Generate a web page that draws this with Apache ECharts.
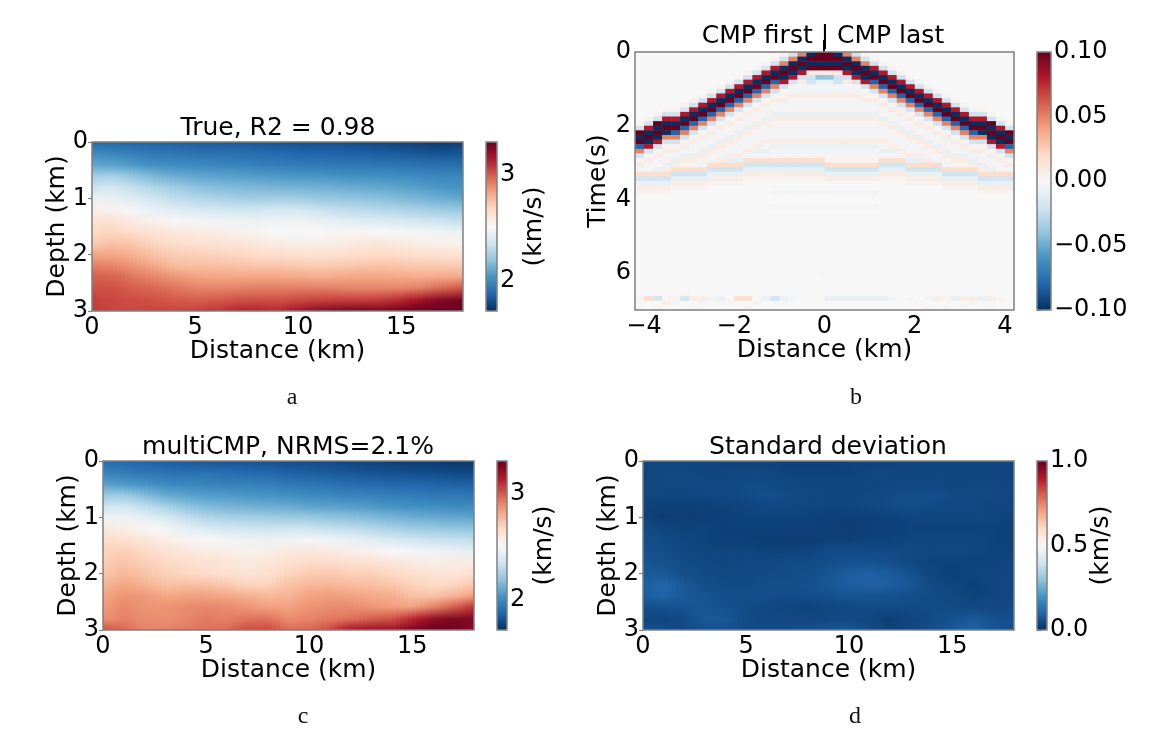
<!DOCTYPE html>
<html>
<head>
<meta charset="utf-8">
<title>CMP velocity inversion</title>
<script src="https://cdn.jsdelivr.net/npm/echarts@6/dist/echarts.min.js"></script>
<style>
html, body { margin: 0; padding: 0; background: #fff; }
#main { width: 1173px; height: 734px; }
</style>
</head>
<body>
<div id="main"></div>
<script type="text/javascript">
// grid nodes
var distanceKm = [0,1,2,3,4,5,6,7,8,9,10,11,12,13,14,15,16,17,18];
var depthKm = [0,0.2,0.4,0.6,0.8,1.0,1.2,1.4,1.6,1.8,2.0,2.2,2.4,2.6,2.8,3.0];

// panel a, km/s
var velocityTrue = [
  [1.92,1.92,1.90,1.90,1.89,1.88,1.88,1.87,1.86,1.85,1.84,1.84,1.83,1.82,1.81,1.80,1.79,1.78,1.79],
  [2.03,2.01,1.99,1.97,1.96,1.95,1.94,1.94,1.93,1.92,1.91,1.90,1.90,1.89,1.88,1.87,1.86,1.85,1.86],
  [2.12,2.11,2.08,2.05,2.04,2.03,2.02,2.01,2.00,1.99,1.98,1.98,1.97,1.97,1.96,1.96,1.95,1.94,1.94],
  [2.26,2.27,2.22,2.17,2.14,2.12,2.11,2.10,2.09,2.08,2.07,2.07,2.06,2.05,2.05,2.04,2.03,2.02,2.02],
  [2.36,2.38,2.34,2.29,2.25,2.21,2.19,2.18,2.17,2.16,2.16,2.15,2.14,2.13,2.12,2.11,2.09,2.07,2.06],
  [2.48,2.46,2.42,2.37,2.33,2.30,2.28,2.26,2.25,2.26,2.25,2.23,2.22,2.21,2.20,2.18,2.16,2.14,2.12],
  [2.58,2.56,2.51,2.47,2.43,2.41,2.39,2.38,2.38,2.40,2.39,2.36,2.34,2.32,2.31,2.29,2.27,2.25,2.23],
  [2.66,2.64,2.60,2.56,2.53,2.51,2.50,2.49,2.48,2.49,2.49,2.47,2.45,2.43,2.42,2.40,2.38,2.36,2.34],
  [2.69,2.70,2.67,2.64,2.62,2.60,2.59,2.57,2.55,2.53,2.52,2.53,2.54,2.54,2.53,2.52,2.51,2.49,2.48],
  [2.73,2.76,2.74,2.70,2.67,2.65,2.64,2.63,2.61,2.59,2.58,2.58,2.59,2.61,2.62,2.60,2.58,2.57,2.56],
  [2.84,2.84,2.81,2.76,2.73,2.72,2.71,2.70,2.68,2.67,2.66,2.65,2.66,2.68,2.69,2.68,2.66,2.65,2.65],
  [2.93,2.92,2.88,2.84,2.78,2.77,2.77,2.76,2.75,2.75,2.74,2.73,2.74,2.75,2.76,2.75,2.74,2.74,2.73],
  [3.00,2.99,2.95,2.91,2.88,2.85,2.84,2.84,2.84,2.84,2.83,2.82,2.83,2.84,2.84,2.83,2.82,2.83,2.84],
  [3.03,3.03,3.00,2.98,2.95,2.92,2.92,2.92,2.93,2.93,2.93,2.93,2.92,2.91,2.91,2.91,2.93,2.98,3.02],
  [3.07,3.05,3.04,3.03,3.01,3.00,3.01,3.03,3.03,3.03,3.05,3.06,3.07,3.07,3.08,3.12,3.19,3.25,3.27],
  [3.08,3.06,3.05,3.06,3.06,3.07,3.09,3.13,3.14,3.12,3.18,3.24,3.27,3.29,3.27,3.30,3.31,3.31,3.31]
];

// panel c, km/s
var velocityMulti = [
  [1.93,1.91,1.90,1.88,1.87,1.86,1.85,1.85,1.84,1.83,1.83,1.82,1.81,1.80,1.79,1.78,1.78,1.77,1.77],
  [2.00,1.98,1.96,1.95,1.94,1.94,1.93,1.92,1.91,1.89,1.88,1.87,1.86,1.85,1.84,1.83,1.83,1.82,1.82],
  [2.10,2.08,2.06,2.03,2.02,2.01,2.00,2.00,1.99,1.97,1.96,1.95,1.93,1.92,1.91,1.91,1.90,1.89,1.89],
  [2.24,2.24,2.19,2.13,2.11,2.09,2.08,2.07,2.06,2.05,2.03,2.02,2.01,2.00,1.99,1.98,1.97,1.97,1.96],
  [2.36,2.38,2.33,2.27,2.21,2.18,2.16,2.15,2.14,2.13,2.11,2.10,2.09,2.08,2.06,2.05,2.04,2.03,2.03],
  [2.49,2.49,2.45,2.40,2.34,2.29,2.27,2.26,2.25,2.24,2.23,2.21,2.20,2.18,2.16,2.14,2.13,2.12,2.11],
  [2.61,2.59,2.55,2.51,2.46,2.42,2.39,2.38,2.37,2.38,2.37,2.35,2.34,2.31,2.28,2.26,2.24,2.23,2.22],
  [2.68,2.66,2.63,2.59,2.55,2.53,2.51,2.49,2.48,2.50,2.52,2.50,2.47,2.44,2.41,2.38,2.36,2.35,2.34],
  [2.71,2.72,2.69,2.65,2.62,2.60,2.58,2.56,2.58,2.61,2.62,2.60,2.58,2.56,2.53,2.51,2.49,2.47,2.46],
  [2.72,2.75,2.72,2.69,2.66,2.65,2.63,2.61,2.63,2.65,2.68,2.68,2.66,2.65,2.63,2.60,2.58,2.59,2.60],
  [2.75,2.79,2.76,2.72,2.70,2.68,2.66,2.64,2.66,2.71,2.73,2.74,2.72,2.72,2.69,2.67,2.64,2.63,2.66],
  [2.80,2.84,2.81,2.76,2.77,2.77,2.74,2.71,2.71,2.76,2.79,2.80,2.78,2.77,2.75,2.71,2.69,2.70,2.74],
  [2.84,2.88,2.87,2.84,2.85,2.85,2.84,2.81,2.79,2.80,2.85,2.86,2.85,2.83,2.82,2.76,2.76,2.80,2.86],
  [2.86,2.91,2.88,2.88,2.90,2.91,2.90,2.88,2.85,2.85,2.88,2.90,2.90,2.88,2.86,2.85,2.92,3.00,3.10],
  [2.89,2.92,2.90,2.89,2.91,2.94,2.93,2.95,2.96,2.90,2.92,2.94,2.96,3.00,3.03,3.12,3.22,3.26,3.26],
  [3.03,2.98,2.92,2.92,2.94,2.96,2.97,3.04,3.05,2.97,2.98,3.05,3.18,3.21,3.20,3.27,3.31,3.29,3.24]
];

// panel d, km/s
var stdDev = [
  [.04,.04,.04,.04,.035,.035,.035,.03,.03,.03,.035,.035,.035,.04,.04,.04,.04,.04,.04],
  [.04,.045,.045,.04,.04,.04,.04,.035,.035,.035,.035,.04,.04,.04,.04,.04,.04,.04,.035],
  [.04,.045,.045,.045,.045,.05,.05,.045,.04,.04,.04,.04,.045,.045,.045,.04,.04,.04,.04],
  [.045,.04,.04,.045,.045,.05,.055,.05,.045,.04,.04,.045,.05,.055,.055,.05,.045,.045,.04],
  [.035,.03,.03,.03,.035,.04,.045,.045,.04,.04,.04,.045,.05,.055,.05,.045,.045,.04,.04],
  [.035,.025,.025,.03,.03,.035,.035,.035,.035,.03,.03,.03,.035,.04,.04,.04,.04,.04,.035],
  [.05,.04,.035,.035,.03,.03,.03,.03,.03,.03,.025,.03,.03,.035,.035,.035,.035,.035,.03],
  [.055,.05,.04,.035,.03,.03,.025,.025,.025,.03,.03,.035,.035,.04,.04,.04,.04,.035,.03],
  [.06,.055,.045,.04,.04,.04,.035,.035,.04,.05,.05,.05,.05,.045,.04,.045,.04,.035,.035],
  [.07,.06,.05,.045,.04,.045,.045,.05,.05,.055,.06,.06,.055,.045,.035,.035,.035,.035,.04],
  [.075,.075,.055,.05,.045,.045,.05,.05,.055,.065,.085,.09,.08,.06,.04,.03,.035,.04,.04],
  [.085,.10,.075,.055,.05,.05,.055,.055,.06,.07,.085,.09,.085,.07,.05,.04,.03,.04,.045],
  [.08,.095,.075,.065,.055,.055,.055,.05,.055,.06,.065,.065,.06,.055,.05,.045,.035,.04,.045],
  [.055,.06,.065,.07,.06,.05,.045,.04,.035,.04,.045,.05,.05,.05,.05,.05,.045,.045,.05],
  [.04,.04,.05,.075,.07,.05,.045,.045,.045,.045,.05,.04,.03,.04,.05,.06,.075,.06,.055],
  [.06,.05,.045,.06,.06,.05,.05,.05,.055,.065,.07,.05,.03,.04,.055,.075,.10,.07,.06]
];

// panel b: one string per trace, one letter per time sample (0.125 s), read top to bottom
var offsetKm = [-4.1,-3.9,-3.7,-3.5,-3.3,-3.1,-2.9,-2.7,-2.5,-2.3,-2.1,-1.9,-1.7,-1.5,-1.3,-1.1,-0.9,-0.7,-0.5,-0.3,-0.1,
                0.1,0.3,0.5,0.7,0.9,1.1,1.3,1.5,1.7,1.9,2.1,2.3,2.5,2.7,2.9,3.1,3.3,3.5,3.7,3.9,4.1];
var sampleStep = 0.125;
var ampLevels = { '.':0, a:0.003, b:0.008, c:0.018, d:0.05, e:0.08, f:0.10, A:-0.003, B:-0.008, C:-0.02, D:-0.04, E:-0.08, F:-0.10 };
var shotTraces = [
  "........ .......a CfFfEdCa bAcCBba. ........ ........ .....A.a",
  "........ ......aC eFfFeCab AacCBba. ........ ........ .....c..",
  "........ .....aCf FfFeCabA aBcCBba. ........ ........ .....C.a",
  "........ ....aCeF fFdCabAa BbcCBba. ........ ........ .....ab.",
  "........ ....aCeF fEdCabAB bcCBba.. ........ ........ .....aA.",
  "........ ...aCeFf EdCabABb acCBba.. ........ ........ ....aC..",
  "........ ..aCeFfE dCabAaBb acCBba.. ........ ........ .....b.a",
  "........ .aCeFfEd CabAaBba AcCBba.. ........ ........ .....bA.",
  "........ aCeFfEdC abAaBbaA cCBba... ........ ........ .....A..",
  ".......a CeFfEdCa bAaBbaAb cCBba... ........ ........ .....Ba.",
  "......aC eFfEdCab AaBbaAbB cCBba... ........ ........ ......a.",
  ".....aCe FfEdCabA aBbaAabB cCBba... ........ ........ .....c..",
  "....aCeF fEdCabAa BbaAabAc CBba.... ........ ........ .....c.a",
  "...aCeFf EdCabAaB baAabBAc CBba.... ........ ........ ......A.",
  "..aCeFfE dCabAaBb AAabABAc CBba.... ........ ........ .....B..",
  ".aCeFfEd CabAaBba AAabBAac CBba..A. .a...... ........ .....C..",
  "aCdFfFeC aabAaBba AAabBAac CBba..A. .a...... ........ .....Ba.",
  "CdFfFeCa AbaAaBba AAabBAac CBba..A. .a...... ........ .....A..",
  "dFfFeCbA AbaAaBba AAabBAac CBba..A. .a...... ........ ........",
  "FfFfbCCA AbaAaBba AAabBAac CBba..A. .a...... ........ ........",
  "ffFfbDBA AbaAaBba AAabBAac CBba..A. .a...... ........ ........",
  "ffFfbDBA AbaAaBba AAabBAaa cCBb..A. .a...... ........ .....B..",
  "FfFfbCCA AbaAaBba AAabBAaa cCBb..A. .a...... ........ .....B..",
  "dFfFeCbA AbaAaBba AAabBAaa cCBb..A. .a...... ........ .....B..",
  "CdFfFeCa AbaAaBba AAabBAaa cCBb..A. .a...... ........ .....B..",
  "aCdFfFeC aabAaBba AAabBAaa cCBb..A. .a...... ........ .....B..",
  ".aCeFfEd CabAaBba AAabBAaa cCBb..A. .a...... ........ .....B..",
  "..aCeFfE dCabAaBb AAabABAc CBba.... ........ ........ .....B..",
  "...aCeFf EdCabAaB baAabBAc CBba.... ........ ........ .....A..",
  "....aCeF fEdCabAa BbaAabAc CBba.... ........ ........ ........",
  ".....aCe FfEdCabA aBbaAabB cCBba... ........ ........ .....a..",
  "......aC eFfEdCab AaBbaAbB cCBba... ........ ........ ......a.",
  ".......a CeFfEdCa bAaBbaAb cCBba... ........ ........ .....A.a",
  "........ aCeFfEdC abAaBbaA cCBba... ........ ........ .....b..",
  "........ .aCeFfEd CabAaBba AcCBba.. ........ ........ .....a.A",
  "........ ..aCeFfE dCabAaBb acCBba.. ........ ........ .....B..",
  "........ ...aCeFf EdCabABb acCBba.. ........ ........ .....b.a",
  "........ ....aCeF fEdCabAB bcCBba.. ........ ........ .....bA.",
  "........ ....aCeF fFdCabAa BbcCBba. ........ ........ .....B..",
  "........ .....aCf FfFeCabA aBcCBba. ........ ........ .....b.a",
  "........ ......aC eFfFeCab AacCBba. ........ ........ .....a..",
  "........ .......a CfFfEdCa bAcCBba. ........ ........ ........"
];

// tick labels
var distanceTicks = [0, 5, 10, 15];
var depthTicks = [0, 1, 2, 3];
var offsetTicks = [-4, -2, 0, 2, 4];
var timeTicks = [0, 2, 4, 6];
var velocityBarTicks = [2, 3];
var ampBarTicks = [-0.1, -0.05, 0, 0.05, 0.1];
var stdBarTicks = [0, 0.5, 1];

var rdBu = ['#053061','#2166ac','#4393c3','#92c5de','#d1e5f0','#f7f7f7','#fddbc7','#f4a582','#d6604d','#b2182b','#67001f'];
var labelFont = 'DejaVu Sans';
var tickSize = 24;
var labelSize = 25;
var spineColor = '#808080';

function toCells(grid) {
  var out = [];
  for (var j = 0; j < depthKm.length; j++) {
    for (var i = 0; i < distanceKm.length; i++) {
      out.push([distanceKm[i], depthKm[j], grid[j][i]]);
    }
  }
  return out;
}

function traceCells() {
  var out = [];
  shotTraces.forEach(function (trace, i) {
    var samples = trace.replace(/ /g, '');
    for (var r = 0; r < samples.length; r++) {
      out.push([offsetKm[i], (r + 0.5) * sampleStep, ampLevels[samples.charAt(r)]]);
    }
  });
  return out;
}

// shades each grid square between its nodes, like imshow with interpolation
function shadedCell(grid, vmin, vmax) {
  var nx = distanceKm.length, subCols = 5;
  function shade(v) {
    var n = Math.min(1, Math.max(0, (v - vmin) / (vmax - vmin)));
    return echarts.color.lerp(n, rdBu);
  }
  return function (params, api) {
    var i = params.dataIndex % nx, j = Math.floor(params.dataIndex / nx);
    if (i === nx - 1 || j === depthKm.length - 1) return;
    var children = [];
    for (var s = 0; s < subCols; s++) {
      var t0 = s / subCols, t1 = (s + 1) / subCols, tm = (s + 0.5) / subCols;
      var dx = distanceKm[i + 1] - distanceKm[i];
      var p0 = api.coord([distanceKm[i] + t0 * dx, depthKm[j]]);
      var p1 = api.coord([distanceKm[i] + t1 * dx, depthKm[j + 1]]);
      var x0 = Math.round(p0[0]), x1 = Math.round(p1[0]), y0 = Math.round(p0[1]), y1 = Math.round(p1[1]);
      var top = grid[j][i] * (1 - tm) + grid[j][i + 1] * tm;
      var bottom = grid[j + 1][i] * (1 - tm) + grid[j + 1][i + 1] * tm;
      children.push({
        type: 'rect',
        shape: { x: x0, y: y0, width: x1 - x0, height: y1 - y0 },
        style: { fill: new echarts.graphic.LinearGradient(0, 0, 0, 1, [
          { offset: 0, color: shade(top) }, { offset: 1, color: shade(bottom) }
        ]) }
      });
    }
    return { type: 'group', children: children };
  };
}

function traceCell(params, api) {
  var x = api.value(0), t = api.value(1);
  var p0 = api.coord([x - 0.1, t - sampleStep / 2]);
  var p1 = api.coord([x + 0.1, t + sampleStep / 2]);
  return {
    type: 'rect',
    shape: { x: p0[0], y: p0[1], width: p1[0] - p0[0] + 0.5, height: p1[1] - p0[1] + 0.5 },
    style: { fill: api.visual('color') }
  };
}

function plotGrid(left, top, width, height) {
  return { left: left, top: top, width: width, height: height, show: true, z: 5,
    backgroundColor: 'transparent', borderColor: spineColor, borderWidth: 1.5 };
}

function axisBase(ticks) {
  return {
    axisLine: { show: false },
    axisTick: { show: true, length: 4, customValues: ticks, lineStyle: { color: spineColor, width: 1.2 } },
    axisLabel: { customValues: ticks, color: '#000', fontFamily: labelFont, fontSize: tickSize, margin: 5 },
    splitLine: { show: false },
    nameMoveOverlap: false,
    nameTextStyle: { color: '#000', fontFamily: labelFont, fontSize: labelSize }
  };
}

function bottomAxis(gridIndex, min, max, ticks) {
  var a = axisBase(ticks);
  a.type = 'value'; a.gridIndex = gridIndex; a.min = min; a.max = max; a.position = 'bottom';
  a.name = 'Distance (km)'; a.nameLocation = 'middle'; a.nameGap = 28;
  a.axisLabel.margin = 5;
  a.axisLabel.formatter = function (v) { return String(v).replace('-', '\u2212'); };
  return a;
}

function leftAxis(gridIndex, min, max, ticks, name, gap) {
  var a = axisBase(ticks);
  a.type = 'value'; a.gridIndex = gridIndex; a.min = min; a.max = max; a.inverse = true; a.position = 'left';
  a.name = name; a.nameLocation = 'middle'; a.nameGap = gap;
  a.axisLabel.margin = 4;
  return a;
}

function barAxes(gridIndex, min, max, ticks, name, gap, formatter) {
  var y = axisBase(ticks);
  y.type = 'value'; y.gridIndex = gridIndex; y.min = min; y.max = max; y.position = 'right';
  y.axisLabel.formatter = formatter;
  y.axisLabel.margin = 3;
  if (name) { y.name = name; y.nameLocation = 'middle'; y.nameGap = gap; y.nameRotate = 90; }
  return { x: { type: 'value', gridIndex: gridIndex, min: 0, max: 1, show: false }, y: y };
}

function colorBar(left, top, width, height, min, max, seriesIndex) {
  return {
    type: 'continuous', min: min, max: max, seriesIndex: seriesIndex, dimension: 2,
    left: left, top: top, itemWidth: width, itemHeight: height, padding: 0, z: 1,
    calculable: false, hoverLink: false, text: null, showLabel: false,
    inRange: { color: rdBu }
  };
}

function titleText(text, x, y) {
  return { text: text, left: x, top: y, padding: 0, textAlign: 'center',
    textStyle: { color: '#000', fontFamily: labelFont, fontSize: labelSize, fontWeight: 'normal' } };
}

function panelLetter(text, x, y) {
  return { text: text, left: x, top: y, padding: 0, textAlign: 'center',
    textStyle: { color: '#111', fontFamily: 'Liberation Serif', fontSize: 24, fontWeight: 'normal' } };
}

function fixed(digits) {
  return function (v) {
    if (Math.abs(v) < 1e-6) return (0).toFixed(digits);
    return v.toFixed(digits).replace('-', '\u2212');
  };
}

function plain(v) { return String(v); }

var bars = [
  barAxes(4, 1.72, 3.31, velocityBarTicks, '(km/s)', 25, plain),
  barAxes(5, -0.1, 0.1, ampBarTicks, null, 0, fixed(2)),
  barAxes(6, 1.72, 3.31, velocityBarTicks, '(km/s)', 25, plain),
  barAxes(7, 0, 1, stdBarTicks, '(km/s)', 42, fixed(1))
];

var option = {
  animation: false,
  backgroundColor: '#fff',
  title: [
    titleText('True, R2 = 0.98', 278, 116),
    titleText('CMP first | CMP last', 823, 24),
    titleText('multiCMP, NRMS=2.1%', 288, 435),
    titleText('Standard deviation', 828, 435),
    panelLetter('a', 292, 386),
    panelLetter('b', 856, 386),
    panelLetter('c', 303, 705),
    panelLetter('d', 855, 705)
  ],
  grid: [
    plotGrid(92, 142, 371, 169),
    plotGrid(635, 52, 379, 258),
    plotGrid(103, 461, 371, 169),
    plotGrid(643, 461, 371, 169),
    plotGrid(486, 142, 11, 169),
    plotGrid(1037, 52, 14, 258),
    plotGrid(497, 461, 10, 169),
    plotGrid(1037, 461, 10, 169)
  ],
  xAxis: [
    bottomAxis(0, 0, 18, distanceTicks),
    bottomAxis(1, -4.2, 4.2, offsetTicks),
    bottomAxis(2, 0, 18, distanceTicks),
    bottomAxis(3, 0, 18, distanceTicks),
    bars[0].x, bars[1].x, bars[2].x, bars[3].x
  ],
  yAxis: [
    leftAxis(0, 0, 3, depthTicks, 'Depth (km)', 22),
    leftAxis(1, 0, 7, timeTicks, 'Time(s)', 24),
    leftAxis(2, 0, 3, depthTicks, 'Depth (km)', 22),
    leftAxis(3, 0, 3, depthTicks, 'Depth (km)', 22),
    bars[0].y, bars[1].y, bars[2].y, bars[3].y
  ],
  visualMap: [
    colorBar(486, 142, 11, 169, 1.75, 3.31, 0),
    colorBar(1037, 52, 14, 258, -0.1, 0.1, 1),
    colorBar(497, 461, 10, 169, 1.75, 3.31, 2),
    colorBar(1037, 461, 10, 169, 0, 1, 3)
  ],
  graphic: [
    // the title's bar runs down to the frame
    { type: 'line', shape: { x1: 824, y1: 40, x2: 824, y2: 52 }, style: { stroke: '#000', lineWidth: 2 }, silent: true }
  ],
  series: [
    { type: 'custom', name: 'True', xAxisIndex: 0, yAxisIndex: 0, z: 2, silent: true, encode: { x: 0, y: 1 },
      data: toCells(velocityTrue), renderItem: shadedCell(velocityTrue, 1.75, 3.31) },
    { type: 'custom', name: 'CMP gather', xAxisIndex: 1, yAxisIndex: 1, z: 2, silent: true, encode: { x: 0, y: 1 },
      data: traceCells(), renderItem: traceCell },
    { type: 'custom', name: 'multiCMP', xAxisIndex: 2, yAxisIndex: 2, z: 2, silent: true, encode: { x: 0, y: 1 },
      data: toCells(velocityMulti), renderItem: shadedCell(velocityMulti, 1.75, 3.31) },
    { type: 'custom', name: 'Standard deviation', xAxisIndex: 3, yAxisIndex: 3, z: 2, silent: true, encode: { x: 0, y: 1 },
      data: toCells(stdDev), renderItem: shadedCell(stdDev, 0, 1) }
  ]
};

var myChart = echarts.init(document.getElementById('main'), null, { renderer: 'canvas' });
myChart.setOption(option);
</script>
</body>
</html>
